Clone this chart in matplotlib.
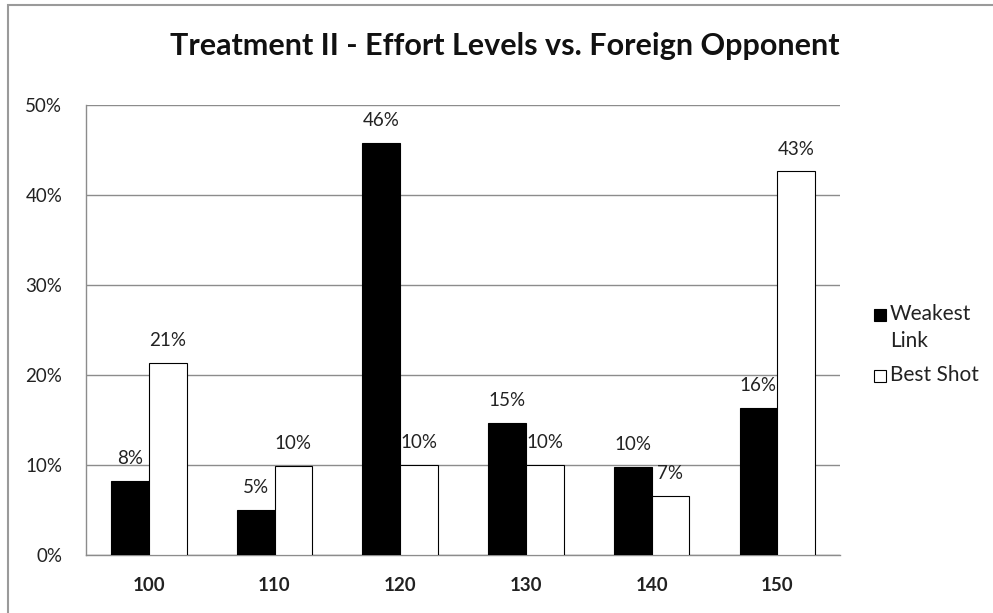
import matplotlib
matplotlib.use("Agg")
import matplotlib.pyplot as plt
from matplotlib.patches import Rectangle
import numpy as np

plt.rcParams['font.family'] = ['Lato', 'DejaVu Sans']

categories = ["100", "110", "120", "130", "140", "150"]
weakest_link = [8.2, 5.0, 45.8, 14.7, 9.8, 16.3]
best_shot = [21.3, 9.9, 10.0, 10.0, 6.6, 42.6]
y_ticks = [0, 10, 20, 30, 40, 50]
series_names = ["Weakest\nLink", "Best Shot"]
series_colors = ["black", "white"]

W, H = 993, 613
fig = plt.figure(figsize=(W / 100, H / 100), dpi=100)
ax = fig.add_axes([0.0866, 0.0946, 0.7594, 0.7345])

# outer chart-area frame
fig.patches.append(Rectangle((0.008, -0.05), 1.5, 1.042, transform=fig.transFigure,
                             fill=False, edgecolor="#9a9a9a", linewidth=1.5))

x = np.arange(len(categories))
w = 0.3
ax.bar(x - w / 2, weakest_link, w, color=series_colors[0], edgecolor="black", linewidth=0.8, zorder=3)
ax.bar(x + w / 2, best_shot, w, color=series_colors[1], edgecolor="black", linewidth=0.8, zorder=3)

for xi, v in zip(x - w / 2, weakest_link):
    ax.annotate(f"{v:.0f}%", (xi, v), xytext=(0, 10), textcoords="offset points",
                ha="center", va="bottom", fontsize=13.5, color="#222222")
for xi, v in zip(x + w / 2, best_shot):
    ax.annotate(f"{v:.0f}%", (xi, v), xytext=(0, 10), textcoords="offset points",
                ha="center", va="bottom", fontsize=13.5, color="#222222")

ax.set_xlim(-0.5, len(categories) - 0.5)
ax.set_ylim(0, 50)
ax.set_yticks(y_ticks)
ax.set_yticklabels([f"{t}%" for t in y_ticks], fontsize=13.5, color="#222222")
ax.set_xticks(x)
ax.set_xticklabels(categories, fontsize=13.5, fontweight="bold", color="#222222")
ax.tick_params(axis="x", length=0, pad=16)
ax.tick_params(axis="y", length=0, pad=17)
ax.yaxis.grid(True, color="#8c8c8c", linewidth=1.0, zorder=0)
ax.set_axisbelow(True)
for s in ["top", "right"]:
    ax.spines[s].set_visible(False)
ax.spines["left"].set_color("#8c8c8c")
ax.spines["bottom"].set_color("#8c8c8c")
ax.spines["left"].set_linewidth(1.0)
ax.spines["bottom"].set_linewidth(1.0)

fig.text(0.508, 0.925, "Treatment II - Effort Levels vs. Foreign Opponent",
         ha="center", va="center", fontsize=22, fontweight="bold", color="#111111")

# legend: square key aligned with the first line of each entry
legend_rows = [315, 376]  # pixel rows from the top
sq = 12
for name, color, row in zip(series_names, series_colors, legend_rows):
    fig.add_artist(Rectangle((874 / W, 1 - (row + sq / 2) / H), sq / W, sq / H,
                             transform=fig.transFigure, facecolor=color,
                             edgecolor="black", linewidth=0.8))
    fig.text(890 / W, 1 - (row - 11) / H, name, ha="left", va="top",
             fontsize=15, color="#222222", linespacing=1.45)

fig.savefig("out.png", dpi=100)
